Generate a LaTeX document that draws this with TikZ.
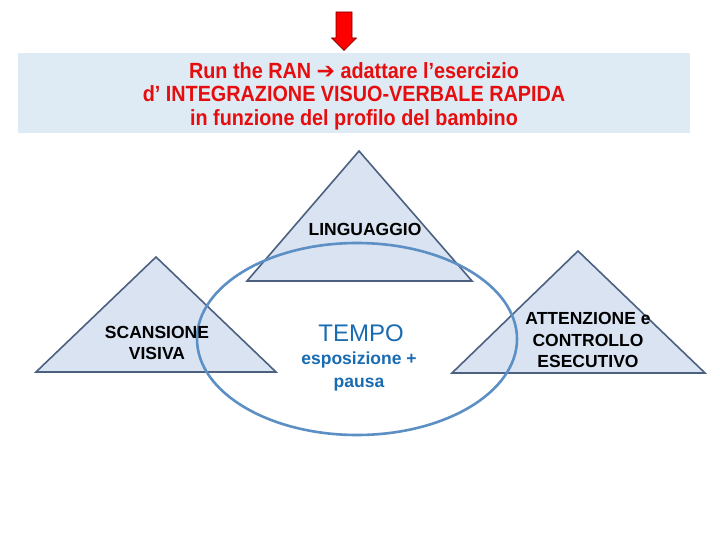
\documentclass[tikz,border=0pt]{standalone}
\usepackage{fontspec}
\setmainfont{Liberation Sans}
\newfontfamily\headfont[FakeStretch=0.9]{Liberation Sans}
\newfontfamily\arrowfont{DejaVu Sans}
\usepackage{tikz}
\usetikzlibrary{shapes.geometric}
\definecolor{redtext}{rgb}{0.9,0.05,0.05}
\definecolor{banner}{rgb}{0.87,0.92,0.96}
\definecolor{trifill}{rgb}{0.85,0.89,0.95}
\definecolor{triline}{rgb}{0.30,0.38,0.50}
\definecolor{ringline}{rgb}{0.36,0.56,0.77}
\definecolor{bluetext}{rgb}{0.10,0.42,0.70}

\begin{document}
\begin{tikzpicture}[x=1pt, y=-1pt, tri/.style = {fill=trifill, draw=triline, line width=1.6pt, line join=miter}, area/.style = {align=center, inner sep=0pt, font=\bfseries\fontsize{17.5}{21.5}\selectfont}, headline/.style = {align=center, inner sep=0pt, text=redtext, font=\headfont\bfseries\fontsize{22}{23.5}\selectfont}, ring/.style = {shape=ellipse, draw=ringline, line width=2.6pt, inner sep=0pt, minimum width=320pt, minimum height=192pt}]
	\useasboundingbox[fill=white] (0,0) rectangle (720,540);
	\filldraw[fill=red, draw=red!45!black, line width=0.7pt] (336,12) -- (352,12) -- (352,38) -- (356.5,38) -- (344,50.5) -- (331.5,38) -- (336,38) -- cycle;
	\fill[banner] (18,53) rectangle (690,133);
	\node[headline] (title) at (354,96) {Run the RAN {\arrowfont\bfseries\fontsize{22}{22}\selectfont ➔} adattare l’esercizio\\ d’ INTEGRAZIONE VISUO-VERBALE RAPIDA\\ in funzione del profilo del bambino};
	\filldraw[tri] (359,151) -- (472,281) -- (247,281) -- cycle;
	\filldraw[tri] (156,257) -- (276,372) -- (36,372) -- cycle;
	\filldraw[tri] (578,251) -- (705,373) -- (452,373) -- cycle;
	\node[ring] (tempoarea) at (357,339) {};
	\node[area] (lang) at (365,229) {LINGUAGGIO};
	\node[area] (scan) at (157,343) {SCANSIONE\\ VISIVA};
	\node[area] (attn) at (588,340) {ATTENZIONE e\\ CONTROLLO\\ ESECUTIVO};
	\node[inner sep=0pt, text=bluetext, font=\fontsize{24}{24}\selectfont] (tempo) at (361,333) {TEMPO};
	\node[area, text=bluetext, font=\bfseries\fontsize{17.5}{23}\selectfont] (expo) at (359,371) {esposizione +\\ pausa};
\end{tikzpicture}
\end{document}
